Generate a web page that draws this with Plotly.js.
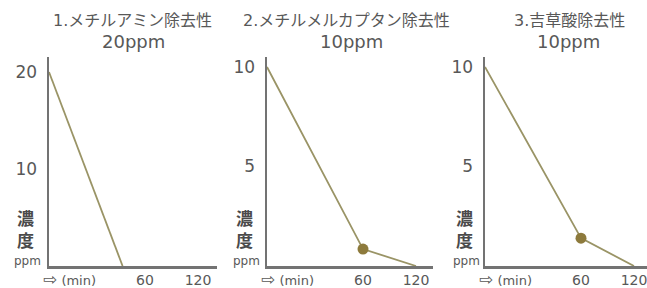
<!DOCTYPE html>
<html><head><meta charset="utf-8">
<script src="https://cdn.plot.ly/plotly-3.0.1.min.js"></script>
<style>html,body{margin:0;padding:0;background:#fff;}#c{width:647px;height:288px;}</style>
</head><body><div id="c"></div>
<script>
// ---- data ----
const titles = ['1.メチルアミン除去性', '2.メチルメルカプタン除去性', '3.吉草酸除去性'];
const initConc = ['20ppm', '10ppm', '10ppm'];
const time1 = [0, 46];
const conc1 = [20, 0];
const time2 = [0, 60, 120];
const conc2 = [10, 0.85, 0];
const time3 = [0, 60, 120];
const conc3 = [10, 1.4, 0];
const markerIdx2 = [1];
const markerIdx3 = [1];
const xTickVals = [60, 120];
const xTickText = ['60', '120'];
const yTicks1 = [10, 20];
const yTicks2 = [5, 10];
const yTicks3 = [5, 10];

// broken time scale: 0-60 min full scale, 60-120 compressed
function tScale(t){ return t <= 60 ? t : 60 + (t - 60) * 0.552; }

const W = 647, H = 288;
const px = x => x / W, py = y => 1 - y / H;

const lineCol = '#9a9466';
const markCol = '#8d7a3c';
const axisCol = '#737373';
const textCol = '#585858';
const FONT = 'DejaVu Sans, Noto Sans CJK JP, sans-serif';

function lineTrace(t, c, xa, ya){
  return {x: t.map(tScale), y: c, xaxis: xa, yaxis: ya, mode: 'lines',
    line: {color: lineCol, width: 1.8}, hoverinfo: 'skip', cliponaxis: false, showlegend: false};
}
function markTrace(t, c, idx, xa, ya){
  return {x: idx.map(i => tScale(t[i])), y: idx.map(i => c[i]), xaxis: xa, yaxis: ya, mode: 'markers',
    marker: {color: markCol, size: 11}, hoverinfo: 'skip', cliponaxis: false, showlegend: false};
}

const traces = [
  lineTrace(time1, conc1, 'x', 'y'),
  lineTrace(time2, conc2, 'x2', 'y2'),
  markTrace(time2, conc2, markerIdx2, 'x2', 'y2'),
  lineTrace(time3, conc3, 'x3', 'y3'),
  markTrace(time3, conc3, markerIdx3, 'x3', 'y3')
];

const PXU = 1.6; // pixels per unit on time axis
function xAxis(left, right, anchor){
  return {domain: [px(left), px(right)], range: [0, (right - left) / PXU], anchor: anchor,
    showgrid: false, zeroline: false, showline: true, linecolor: axisCol, linewidth: 2.5,
    ticks: '', tickvals: xTickVals.map(tScale), ticktext: xTickText, ticklabelstandoff: 0,
    ticklabeloverflow: 'allow',
    tickfont: {family: FONT, size: 14, color: textCol}, fixedrange: true};
}
function yAxis(top, maxV, ticks, anchor){
  return {domain: [py(266), py(top)], range: [0, maxV], anchor: anchor,
    showgrid: false, zeroline: false, showline: true, linecolor: axisCol, linewidth: 2.5,
    ticks: '', tickvals: ticks, ticktext: ticks.map(String), ticklabelstandoff: 6,
    tickfont: {family: FONT, size: 17, color: textCol}, fixedrange: true};
}

const panels = [
  {axisX: 49, right: 217, tc: 132, pc: 133, lab: 25},
  {axisX: 267, right: 433, tc: 347, pc: 351, lab: 244},
  {axisX: 485, right: 660, tc: 569, pc: 568, lab: 464}
];

const ann = [];
panels.forEach((p, i) => {
  ann.push({text: titles[i], x: px(p.tc), y: py(21), xref: 'paper', yref: 'paper', showarrow: false,
    xanchor: 'center', yanchor: 'middle', font: {family: FONT, size: 16, color: textCol}});
  ann.push({text: initConc[i], x: px(p.pc), y: py(41), xref: 'paper', yref: 'paper', showarrow: false,
    xanchor: 'center', yanchor: 'middle', font: {family: FONT, size: 18, color: textCol}});
  ann.push({text: '<b>濃<br>度</b>', x: px(p.lab), y: py(230), xref: 'paper', yref: 'paper', showarrow: false,
    xanchor: 'center', yanchor: 'middle', font: {family: FONT, size: 17, color: '#4a4a4a'}});
  ann.push({text: 'ppm', x: px(p.lab + 2), y: py(261), xref: 'paper', yref: 'paper', showarrow: false,
    xanchor: 'center', yanchor: 'middle', font: {family: FONT, size: 12, color: textCol}});
  ann.push({text: '<span style="font-size:17px">⇨</span> (min)', x: px(p.axisX - 8), y: py(279), xref: 'paper', yref: 'paper', showarrow: false,
    xanchor: 'left', yanchor: 'middle', font: {family: FONT, size: 13, color: textCol}});
});

const layout = {
  width: W, height: H, margin: {l: 0, r: 0, t: 0, b: 0},
  paper_bgcolor: '#fff', plot_bgcolor: 'rgba(0,0,0,0)', showlegend: false,
  xaxis: xAxis(49, 217, 'y'),
  xaxis2: xAxis(267, 433, 'y2'),
  xaxis3: xAxis(485, 647, 'y3'),
  yaxis: yAxis(57, 21.55, yTicks1, 'x'),
  yaxis2: yAxis(57, 10.5, yTicks2, 'x2'),
  yaxis3: yAxis(57, 10.5, yTicks3, 'x3'),
  annotations: ann
};

Plotly.newPlot('c', traces, layout, {displayModeBar: false, staticPlot: true});
</script>
</body></html>
